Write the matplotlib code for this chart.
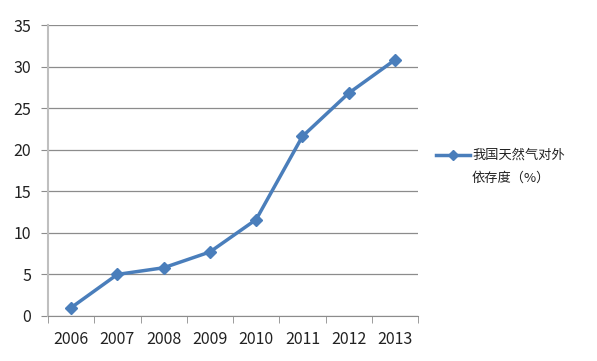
import matplotlib
matplotlib.use('Agg')
import matplotlib.pyplot as plt
from matplotlib.lines import Line2D
import numpy as np

plt.rcParams['font.family'] = ['Noto Sans CJK SC', 'DejaVu Sans']

years = ['2006', '2007', '2008', '2009', '2010', '2011', '2012', '2013']
dependence = [1.0, 5.0, 5.8, 7.7, 11.6, 21.6, 26.8, 30.8]
label_lines = ['我国天然气对外', '依存度（%）']

blue = '#4a7ebb'
fig = plt.figure(figsize=(5.97, 3.61), dpi=100)
ax = fig.add_axes([0.0804, 0.1247, 0.6198, 0.806])

x = np.arange(len(years))
ax.plot(x, dependence, color=blue, linewidth=2.5, marker='D', markersize=6)

ax.set_xlim(-0.5, len(years) - 0.5)
ax.set_ylim(0, 35)
ax.set_yticks(range(0, 36, 5))
ax.yaxis.grid(True, color='#8c8c8c', linewidth=0.9)
ax.set_axisbelow(True)

ax.set_xticks(x)
ax.set_xticklabels(years)
ax.set_xticks(np.arange(-0.5, len(years), 1), minor=True)
ax.tick_params(axis='x', which='major', length=0, pad=11, labelsize=11.5,
               labelcolor='#222222')
ax.tick_params(axis='x', which='minor', length=5, color='#8c8c8c')
ax.tick_params(axis='y', length=5, color='#8c8c8c', labelsize=11.5, pad=7,
               labelcolor='#222222')

for s in ['top', 'right']:
    ax.spines[s].set_visible(False)
ax.spines['left'].set_color('#bfbfbf')
ax.spines['left'].set_linewidth(1.5)
ax.spines['bottom'].set_color('#8c8c8c')

# legend drawn by hand so the key sits on the first text line
fig.add_artist(Line2D([0.730, 0.787], [0.5706, 0.5706], color=blue,
                      linewidth=2.5, transform=fig.transFigure))
fig.add_artist(Line2D([0.7585], [0.5706], color=blue, marker='D',
                      markersize=5, transform=fig.transFigure))
fig.text(0.7906, 0.5706, label_lines[0], fontsize=9.5, va='center',
         color='#222222')
fig.text(0.7906, 0.507, label_lines[1], fontsize=9.5, va='center',
         color='#222222')

fig.savefig('out.png', dpi=100)
